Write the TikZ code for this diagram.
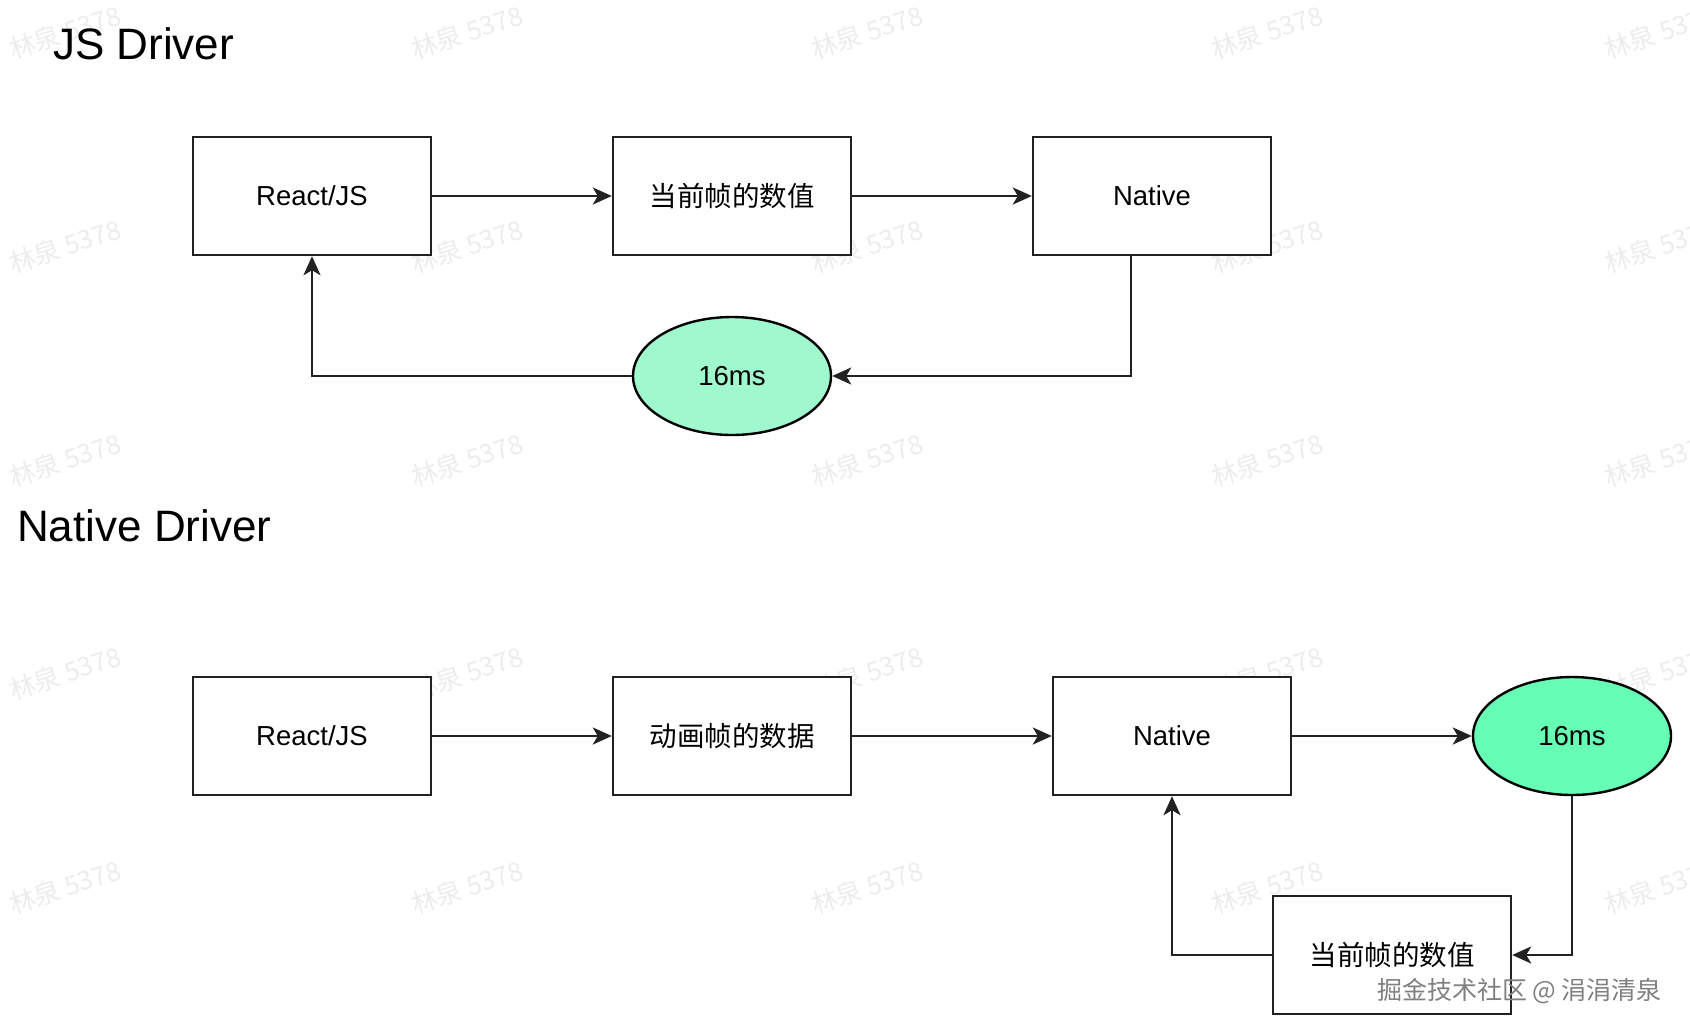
\documentclass[tikz,border=0pt]{standalone}
\usepackage{fontspec}
\setmainfont{Liberation Sans}
\newfontfamily\cjk{Noto Sans CJK SC}
\usetikzlibrary{arrows.meta,shapes.geometric}
\definecolor{lightmint}{HTML}{A0F8CE}
\definecolor{mint}{HTML}{66FDB4}
\definecolor{edgegray}{HTML}{222222}
\tikzset{
  box/.style={draw=edgegray, line width=2.4pt, fill=white, minimum width=238pt, minimum height=118pt, inner sep=0pt, font=\fontsize{27.5}{33}\selectfont},
  oval/.style={ellipse, draw=black, line width=2.4pt, minimum width=198pt, minimum height=118pt, inner sep=0pt, font=\fontsize{27.5}{33}\selectfont},
  conn/.style={draw=edgegray, line width=2.4pt, -{Stealth[length=19pt,width=17pt,inset=5pt]}},
  title/.style={anchor=base west, inner sep=0pt, font=\fontsize{44}{52}\selectfont},
  wm/.style={text=black!7, rotate=18, font=\cjk\fontsize{26}{30}\selectfont, inner sep=0pt}
}
\begin{document}
\begin{tikzpicture}[x=1pt,y=-1pt]
\useasboundingbox[fill=white] (0,0) rectangle (1690,1034);
% faint watermarks
\foreach \xx/\yy [count=\i] in {65/32,467/32,867/32,1267/32,1660/32,
  65/246,467/246,867/246,1267/246,1660/246,
  65/460,467/460,867/460,1267/460,1660/460,
  65/673,467/673,867/673,1267/673,1660/673,
  65/887,467/887,867/887,1267/887,1660/887}
  \node[wm] (wm\i) at (\xx,\yy) {林泉 5378};
% titles
\node[title] (t1) at (53,59) {JS Driver};
\node[title] (t2) at (17,541) {Native Driver};
% JS driver row
\node[box] (r1) at (312,196) {React/JS};
\node[box] (v1) at (732,196) {\cjk 当前帧的数值};
\node[box] (n1) at (1152,196) {Native};
\node[oval, fill=lightmint] (e1) at (732,376) {16ms};
\coordinate (n1b) at ([xshift=-21pt]n1.south);
\draw[conn] (r1.east) -- (v1.west);
\draw[conn] (v1.east) -- (n1.west);
\draw[conn] (n1b) |- (e1.east);
\draw[conn] (e1.west) -| (r1.south);
% Native driver row
\node[box] (r2) at (312,736) {React/JS};
\node[box] (d2) at (732,736) {\cjk 动画帧的数据};
\node[box] (n2) at (1172,736) {Native};
\node[oval, fill=mint] (e2) at (1572,736) {16ms};
\node[box] (v2) at (1392,955) {\cjk 当前帧的数值};
\draw[conn] (r2.east) -- (d2.west);
\draw[conn] (d2.east) -- (n2.west);
\draw[conn] (n2.east) -- (e2.west);
\draw[conn] (e2.south) |- (v2.east);
\draw[conn] (v2.west) -| (n2.south);
% site watermark
\node[text=black!50, font=\cjk\fontsize{25}{30}\selectfont, inner sep=0pt] (wmsite) at (1519.5,991) {掘金技术社区 @ 涓涓清泉};
\end{tikzpicture}
\end{document}
